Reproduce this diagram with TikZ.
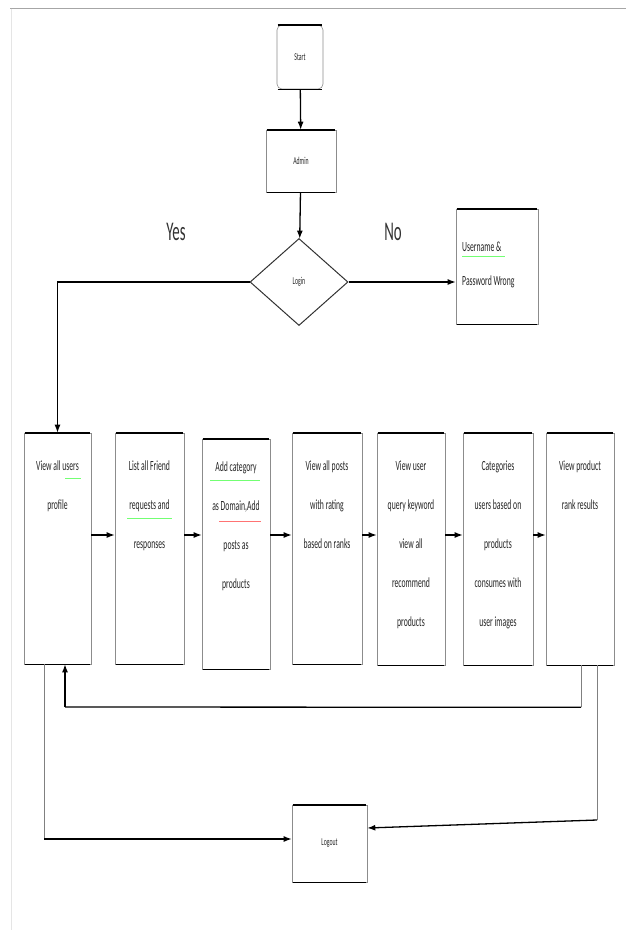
\documentclass[tikz,border=0pt]{standalone}
\usepackage{fontspec}
\setmainfont{Carlito}[FakeStretch=0.55]
\usetikzlibrary{shapes.geometric,arrows.meta}
\begin{document}
\begin{tikzpicture}[x=1pt,y=-1pt,
  every node/.style={inner sep=0pt},
  box/.style={draw=black!45,line width=0.6pt,rectangle},
  txt/.style={font=\fontsize{14}{39}\selectfont,align=center,anchor=north,text=black!85},
  arr/.style={line width=1.3pt,-{Latex[length=8pt,width=6pt]}},
  ln/.style={line width=1.3pt},
  thinln/.style={line width=0.6pt,draw=black!50},
  lbl/.style={font=\fontsize{27}{27}\selectfont,text=black!80}]
\useasboundingbox (0,0) rectangle (626,930);
\fill[white] (0,0) rectangle (626,930);
\draw[black!35,line width=1pt] (10,8.5) -- (626,8.5);
\draw[black!10,line width=1pt] (11,8.5) -- (11,930);

% top part
\node[draw=black!45,line width=0.6pt,rounded corners=5pt,minimum width=46pt,minimum height=64pt,
  font=\fontsize{10.5}{10.5}\selectfont,text=black!85] (st) at (300,57) {Start};
\node[box,minimum width=70pt,minimum height=62pt,font=\fontsize{10.5}{10.5}\selectfont,text=black!85] (ad) at (301,161) {Admin};
\node[draw=black!80,line width=1pt,diamond,minimum width=98pt,minimum height=87pt,
  font=\fontsize{10.5}{10.5}\selectfont,text=black!85] (lg) at (299,282) {Login};
\node[box,minimum width=82pt,minimum height=115pt] (uw) at (497,266.5) {};
\node[font=\fontsize{14}{34}\selectfont,align=left,anchor=north west,text=black!85] (uwt) at (462,242) {Username \&\\Password Wrong};
\draw[green!55,line width=0.8pt] (462,256) -- (505,256);

\node[lbl] (yes) at (176,232) {Yes};
\node[lbl] (no) at (393,232) {No};

% row of boxes
\node[box,minimum width=67pt,minimum height=231pt] (b1) at (57.5,548.5) {};
\node[box,minimum width=69pt,minimum height=231pt] (b2) at (149.5,548.5) {};
\node[box,minimum width=68pt,minimum height=230pt] (b3) at (236,554) {};
\node[box,minimum width=70pt,minimum height=231pt] (b4) at (327,548.5) {};
\node[box,minimum width=68pt,minimum height=232pt] (b5) at (411,549) {};
\node[box,minimum width=70pt,minimum height=232pt] (b6) at (498,549) {};
\node[box,minimum width=68pt,minimum height=232pt] (b7) at (580,549) {};
\node[box,minimum width=75pt,minimum height=77pt,font=\fontsize{10.5}{10.5}\selectfont,text=black!85] (lo) at (329.5,843.5) {Logout};

\foreach \n in {st,ad,uw,b1,b2,b3,b4,b5,b6,b7,lo}{
  \draw[black,line width=1.6pt] ([xshift=1pt]\n.north west) -- ([xshift=-1pt]\n.north east);
  \draw[black,line width=1.6pt] ([xshift=1pt]\n.south west) -- ([xshift=-1pt]\n.south east);
}

\node[txt] (t1) at (57.5,461) {View all users\\profile};
\node[txt] (t2) at (149.5,461) {List all Friend\\requests and\\responses};
\node[txt] (t3) at (236,462) {Add category\\as Domain,Add\\posts as\\products};
\node[txt] (t4) at (327,461) {View all posts\\with rating\\based on ranks};
\node[txt] (t5) at (411,461) {View user\\query keyword\\view all\\recommend\\products};
\node[txt] (t6) at (498,461) {Categories\\users based on\\products\\consumes with\\user images};
\node[txt] (t7) at (580,461) {View product\\rank results};

% spell-check marks
\draw[green!55,line width=0.8pt] (65,478) -- (81,478);
\draw[green!55,line width=0.8pt] (127,518) -- (172,518);
\draw[green!55,line width=0.8pt] (210,480) -- (260,480);
\draw[red!55,line width=0.8pt] (219,521) -- (261,521);

% connectors
\draw[arr] (st) -- (ad);
\draw[arr] (ad) -- (lg);
\draw[arr] (lg.east) -- (lg.east -| uw.west);
\draw[arr] (lg.west) -| (b1.north);
\foreach \a/\b in {b1/b2,b2/b3,b3/b4,b4/b5,b5/b6,b6/b7}{
  \draw[arr] (\a.east |- 0,535) -- (\b.west |- 0,535);
}
\coordinate (fb) at ([xshift=1pt]b7.south);
\draw[thinln] (fb) -- ++(0,42) coordinate (fb2);
\draw[ln] (fb2) -- (65,707) coordinate (fb3);
\draw[arr] (fb3) -- ([xshift=7.5pt]b1.south);

\coordinate (l1) at ([xshift=-13.5pt]b1.south);
\draw[thinln] (l1) -- (44,839) coordinate (l2);
\draw[arr] (l2) -- ([yshift=4.5pt]lo.west);

\coordinate (r1) at ([xshift=17pt]b7.south);
\draw[thinln] (r1) -- (597,820) coordinate (r2);
\draw[arr] (r2) -- ([yshift=15.5pt]lo.east);
\end{tikzpicture}
\end{document}
